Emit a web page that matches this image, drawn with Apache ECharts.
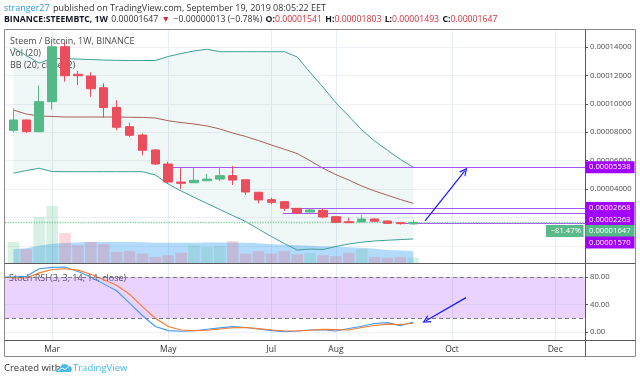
<!DOCTYPE html>
<html><head><meta charset="utf-8">
<script src="https://cdn.jsdelivr.net/npm/echarts@6/dist/echarts.min.js"></script>
<style>html,body{margin:0;padding:0;background:#fff}#c{width:640px;height:380px}</style>
</head><body><div id="c"></div>
<script>
// ---- data (prices in satoshi, 1e-8 BTC) ----
const weeks = ['2019-02-04','2019-02-11','2019-02-18','2019-02-25','2019-03-04','2019-03-11','2019-03-18','2019-03-25',
 '2019-04-01','2019-04-08','2019-04-15','2019-04-22','2019-04-29','2019-05-06','2019-05-13','2019-05-20','2019-05-27',
 '2019-06-03','2019-06-10','2019-06-17','2019-06-24','2019-07-01','2019-07-08','2019-07-15','2019-07-22','2019-07-29',
 '2019-08-05','2019-08-12','2019-08-19','2019-08-26','2019-09-02','2019-09-09','2019-09-16'];
const open  = [null,8130,8860,8040,10150,14020,12080,11960,11130,9750,8390,7800,6750,5760,4490,4440,4580,4700,4940,4650,3770,3250,3110,2640,2380,2500,2050,1700,1680,1890,1750,1630,1541];
const high  = [null,9680,8900,11300,14200,14300,12330,12220,11440,10250,8670,7920,6820,5920,5460,5500,5060,5570,5620,4670,3800,3390,3130,2660,2640,2640,2070,1980,2150,1920,1770,1630,1803];
const low   = [null,7990,7960,8000,9600,11560,11320,10500,9020,8130,7680,6370,5690,4400,3980,4440,4560,4560,4280,3580,2990,2920,2450,2280,2360,1940,1620,1600,1660,1700,1550,1500,1493];
const close = [null,8860,8040,10150,14020,11980,11980,11060,9730,8350,7780,6730,5760,4490,4400,4610,4700,4940,4630,3790,3230,3060,2640,2310,2520,2030,1650,1630,1890,1730,1580,1560,1647];
const bbUpper = [null,13950,13400,12870,13180,13190,13150,13120,13080,13060,13050,13050,13050,13330,13540,13720,13840,13670,13670,13670,13670,13670,13670,13300,12210,11180,10070,9130,8170,7380,6730,6080,5538];
const bbBasis = [null,9560,9280,9140,9110,9070,9070,9070,9070,9070,9050,9040,9000,8810,8680,8580,8440,8230,7940,7700,7410,7100,6800,6500,5990,5460,5010,4630,4210,3860,3560,3260,2990];
const bbLower = [null,5110,5300,5460,5230,5220,5220,5220,5220,5220,5220,5220,4990,4350,3860,3420,2980,2560,2130,1710,1180,650,160,-300,-230,-260,-50,130,250,340,390,440,480];
const volume  = [null,90,59,197,244,128,76,90,80,47,51,40,26,33,44,76,68,73,93,40,51,40,51,37,43,33,29,44,59,26,23,26,23];
const volumeMA= [null,59,63,74,82,86,88,90,90,90,90,89,87,87,87,87,88,88,88,87,84,80,78,76,74,71,69,67,65,61,56,53,50];
const stochK = [80,80,81,92,94,94.6,88,80,70,60,42,24,8,2,1.2,1.8,4,6,7.8,6.5,4.5,2,0.5,1.5,3,3.5,1.5,5,8.5,12.5,13.7,9,14.6];
const stochD = [80,79,78.5,86,91,92,90,84,76,68,55,37,20,8,3,2,2.5,4.5,6.3,6.5,5,3,1.8,1.5,2.5,3.8,3.5,3,6.5,9.5,11.5,11,12.7];
const monthTickWeeks  = ['2019-03-04','2019-05-06','2019-07-01','2019-08-05','2019-10-07','2019-12-02'];
const monthTickLabels = ['Mar','May','Jul','Aug','Oct','Dec'];
const priceTicks  = [0,2000,4000,6000,8000,10000,12000,14000];
const priceLabels = [4000,6000,8000,10000,12000,14000];
const stochTicks  = [0,40,80];
// drawings
const levelValues = [5538,2668,2263,1570];
const levelStart  = [13.27,22.5,21.9,31.2];   // week index where the horizontal ray starts
const lastPrice = 1647;
const changePct = '\u221281.47%';
const arrowPrice = [[32.91,1750],[35.99,5270]];
const arrowStoch = [[36.08,50],[32.98,16.5]];

// ---- helpers ----
const DAY = 864e5;
const weekIndex = d => (Date.parse(d) - Date.parse(weeks[0])) / (7*DAY);
const monthPos = monthTickWeeks.map(weekIndex);
const X_MIN = 0.349, X_MAX = 45.31;
const P_MIN = -1211, P_MAX = 15268;
const FONT = '"Open Sans", "Noto Sans", sans-serif';
const UP = '#53b987', DN = '#eb4d5c';
const PURPLE_LINE = '#a855f7', PURPLE_BADGE = '#a100ff';
const chevron = 'path://M0,10 L5,0 L10,10 L8.4,10 L5,3.2 L1.6,10 Z';

const idx = weeks.map((w,k)=>k);
const candleData = idx.filter(k=>open[k]!=null).map(k=>[k, open[k], close[k], low[k], high[k]]);
const line = arr => idx.filter(k=>arr[k]!=null).map(k=>[k, arr[k]]);

const chart = echarts.init(document.getElementById('c'));
const option = {
  animation: false,
  textStyle: {fontFamily: FONT},
  grid: [
    {left:5, top:29, width:580, height:234},
    {left:5, top:264, width:580, height:76}
  ],
  xAxis: [
    {type:'value', gridIndex:0, min:X_MIN, max:X_MAX, axisLine:{show:false}, axisLabel:{show:false},
     axisTick:{show:false, customValues:monthPos}, splitLine:{show:true, lineStyle:{color:'#e6edf4', width:1}}},
    {type:'value', gridIndex:1, min:X_MIN, max:X_MAX, axisLine:{show:false},
     axisTick:{show:false, customValues:monthPos},
     axisLabel:{show:true, customValues:monthPos, margin:5, fontSize:8.5, color:'#333', fontFamily:FONT,
       formatter: v => { const i = monthPos.findIndex(p=>Math.abs(p-v)<0.01); return i>=0 ? monthTickLabels[i] : ''; }},
     splitLine:{show:true, lineStyle:{color:'#e6edf4', width:1}}}
  ],
  yAxis: [
    {type:'value', gridIndex:0, position:'right', min:P_MIN, max:P_MAX, axisLine:{show:false},
     axisTick:{show:true, length:3, customValues:priceTicks, lineStyle:{color:'#555'}},
     axisLabel:{customValues:priceLabels, margin:5, fontSize:7.7, color:'#4a4a4a', fontFamily:FONT,
       formatter: v => (v/1e8).toFixed(8)},
     splitLine:{show:true, lineStyle:{color:'#eef2f6', width:1}}},
    {type:'value', gridIndex:0, min:0, max:1000, show:false},
    {type:'value', gridIndex:1, position:'right', min:-11.6, max:98.9, axisLine:{show:false},
     axisTick:{show:true, length:3, customValues:stochTicks, lineStyle:{color:'#555'}},
     axisLabel:{customValues:stochTicks, margin:5, fontSize:7.7, color:'#4a4a4a', fontFamily:FONT,
       formatter: v => v.toFixed(2)},
     splitLine:{show:true, lineStyle:{color:'#eef2f6', width:1}}}
  ],
  series: [
    // Bollinger background
    {type:'custom', xAxisIndex:0, yAxisIndex:0, data:[[1, bbUpper[1]]], encode:{x:0,y:1}, silent:true, z:0,
     renderItem: (params, api) => {
       const pts = [];
       idx.filter(k=>bbUpper[k]!=null).forEach(k=>pts.push(api.coord([k, bbUpper[k]])));
       idx.filter(k=>bbLower[k]!=null).reverse().forEach(k=>pts.push(api.coord([k, bbLower[k]])));
       return {type:'polygon', shape:{points:pts}, style:{fill:'rgba(25,135,135,0.065)'}};
     }},
    // Volume MA area
    {type:'line', xAxisIndex:0, yAxisIndex:1, data:line(volumeMA), symbol:'none', silent:true, z:1,
     lineStyle:{opacity:0}, areaStyle:{color:'rgba(33,150,243,0.35)', opacity:1}},
    // Volume bars
    {type:'bar', xAxisIndex:0, yAxisIndex:1, barWidth:11.5, silent:true, z:2,
     data: idx.filter(k=>volume[k]!=null).map(k=>({value:[k, volume[k]],
       itemStyle:{color: close[k]>=open[k] ? 'rgba(83,185,135,0.22)' : 'rgba(235,77,92,0.22)'}}))},
    // BB lines
    {type:'line', xAxisIndex:0, yAxisIndex:0, data:line(bbUpper), symbol:'none', silent:true, z:3,
     lineStyle:{color:'#3f9f97', width:1}},
    {type:'line', xAxisIndex:0, yAxisIndex:0, data:line(bbLower), symbol:'none', silent:true, z:3,
     lineStyle:{color:'#3f9f97', width:1}},
    {type:'line', xAxisIndex:0, yAxisIndex:0, data:line(bbBasis), symbol:'none', silent:true, z:3,
     lineStyle:{color:'#a4605c', width:1},
     markLine:{silent:true, symbol:'none', animation:false, label:{show:false},
       data: levelValues.map((v,i)=>[{coord:[levelStart[i], v]}, {coord:[X_MAX, v]}]).concat([
         [{coord:[X_MIN, lastPrice], lineStyle:{color:'#7fcf9f', type:'dotted', width:1.3}}, {coord:[X_MAX, lastPrice]}]
       ]),
       lineStyle:{color:PURPLE_LINE, width:1, type:'solid'}}},
    // Candles
    {type:'candlestick', xAxisIndex:0, yAxisIndex:0, data:candleData, encode:{x:0, y:[1,2,3,4]},
     barWidth:9, silent:true, z:5,
     itemStyle:{color:UP, color0:DN, borderColor:UP, borderColor0:DN, borderWidth:1},
     markLine:{silent:true, animation:false, label:{show:false}, symbol:['none', chevron], symbolSize:[8,8],
       lineStyle:{color:'#1818ff', width:1.2, type:'solid'},
       data:[[{coord:arrowPrice[0]}, {coord:arrowPrice[1]}]]}},
    // Stoch RSI
    {type:'line', xAxisIndex:1, yAxisIndex:2, data:line(stochK), symbol:'none', silent:true, z:4,
     lineStyle:{color:'#3d9df5', width:1.1},
     markArea:{silent:true, itemStyle:{color:'rgba(160,60,255,0.22)'}, data:[[{yAxis:20},{yAxis:80}]]},
     markLine:{silent:true, symbol:'none', animation:false, label:{show:false},
       lineStyle:{color:'#7a7a7a', type:[4,3], width:1}, data:[{yAxis:80},{yAxis:20}]}},
    {type:'line', xAxisIndex:1, yAxisIndex:2, data:line(stochD), symbol:'none', silent:true, z:4,
     lineStyle:{color:'#ff7a29', width:1.1},
     markLine:{silent:true, animation:false, label:{show:false}, symbol:['none', chevron], symbolSize:[8,8],
       lineStyle:{color:'#1818ff', width:1.2, type:'solid'},
       data:[[{coord:arrowStoch[0]}, {coord:arrowStoch[1]}]]}}
  ]
};
chart.setOption(option);

// ---- static texts, frame, and price badges ----
const g = [];
const T = (x,y,text,extra) => g.push({type:'text', x, y, silent:true,
  style:Object.assign({text, font:'9px '+FONT, fill:'#333', textVerticalAlign:'middle'}, extra||{})});
const L = (x1,y1,x2,y2,color,w) => g.push({type:'line', silent:true, shape:{x1,y1,x2,y2}, style:{stroke:color, lineWidth:w||1}});

// header
g.push({type:'text', x:4, y:8, silent:true, style:{
  text:'{u|stranger27} {t|published on TradingView.com, September 19, 2019 08:05:22 EET}',
  textVerticalAlign:'middle',
  rich:{u:{fill:'#2f98dd', fontSize:9, fontFamily:FONT}, t:{fill:'#333', fontSize:9, fontFamily:FONT}}}});
g.push({type:'text', x:4, y:20, silent:true, style:{
  text:'{b|BINANCE:STEEMBTC, 1W} {n|0.00001647} {r|\u25BC} {n|\u22120.00000013 (\u22120.78%)} {b|O:}{r|0.00001541} {b|H:}{r|0.00001803} {b|L:}{r|0.00001493} {b|C:}{r|0.00001647}',
  textVerticalAlign:'middle',
  rich:{b:{fill:'#131722', fontSize:8.7, fontWeight:'bold', fontFamily:FONT},
        n:{fill:'#333', fontSize:8.7, fontFamily:FONT},
        r:{fill:'#d0303b', fontSize:8.7, fontFamily:FONT}}}});

// pane legends
T(10, 41, 'Steem / Bitcoin, 1W, BINANCE', {fill:'#4a4a4a'});
T(10, 53, 'Vol (20)', {fill:'#4a4a4a'});
T(10, 65, 'BB (20, close, 2)', {fill:'#4a4a4a'});
T(9, 278, 'Stoch RSI (3, 3, 14, 14, close)', {fill:'#4a4a4a'});

// frame
L(4.5, 29.5, 635.5, 29.5, '#8a8a8a');
L(4.5, 29.5, 4.5, 356.5, '#8a8a8a');
L(635.5, 29.5, 635.5, 356.5, '#8a8a8a');
L(4.5, 356.5, 635.5, 356.5, '#8a8a8a');
L(585.5, 29.5, 585.5, 356.5, '#5a5a5a');
L(4.5, 263.5, 635.5, 263.5, '#5a5a5a', 1.2);
L(4.5, 340.5, 635.5, 340.5, '#5a5a5a', 1.2);

// price badges (positions from the y-axis scale, stacked to avoid overlap)
const badges = levelValues.map(v=>({v, color:PURPLE_BADGE})).concat([{v:lastPrice, color:UP, last:true}]);
badges.sort((a,b)=>b.v-a.v);
let prevY = -1e9;
badges.forEach(b=>{
  let y = chart.convertToPixel({yAxisIndex:0}, b.v);
  y = Math.max(y, prevY + 11.5); prevY = y; b.y = y;
});
badges.forEach(b=>{
  g.push({type:'rect', silent:true, shape:{x:585.5, y:b.y-6, width:49, height:12}, style:{fill:b.color}, z:50});
  g.push({type:'text', silent:true, x:589, y:b.y, z:51,
    style:{text:(b.v/1e8).toFixed(8), font:'7.7px '+FONT, fill:'#fff', textVerticalAlign:'middle'}});
  if (b.last) {
    g.push({type:'rect', silent:true, shape:{x:546, y:b.y-6, width:37.5, height:12}, style:{fill:'#5cb98b'}, z:50});
    g.push({type:'text', silent:true, x:581, y:b.y, z:51,
      style:{text:changePct, font:'7.7px '+FONT, fill:'#fff', textVerticalAlign:'middle', textAlign:'right'}});
  }
});

// footer
T(4, 368, 'Created with', {font:'9.5px '+FONT, fill:'#333'});
g.push({type:'polygon', silent:true, shape:{points:[[56,372],[57,368.5],[60,367.5],[62,364.5],[65.5,364],[68,365.5],[71,366.5],[72,369.5],[70.5,372]]},
  style:{fill:'#49b7e8'}});
g.push({type:'polyline', silent:true, shape:{points:[[58,371],[62,368],[65,369.5],[69.5,366]]},
  style:{stroke:'#fff', lineWidth:1, fill:null}});
T(73, 368, 'TradingView', {font:'9.5px '+FONT, fill:'#49b7e8'});

chart.setOption({graphic:g});
</script></body></html>
